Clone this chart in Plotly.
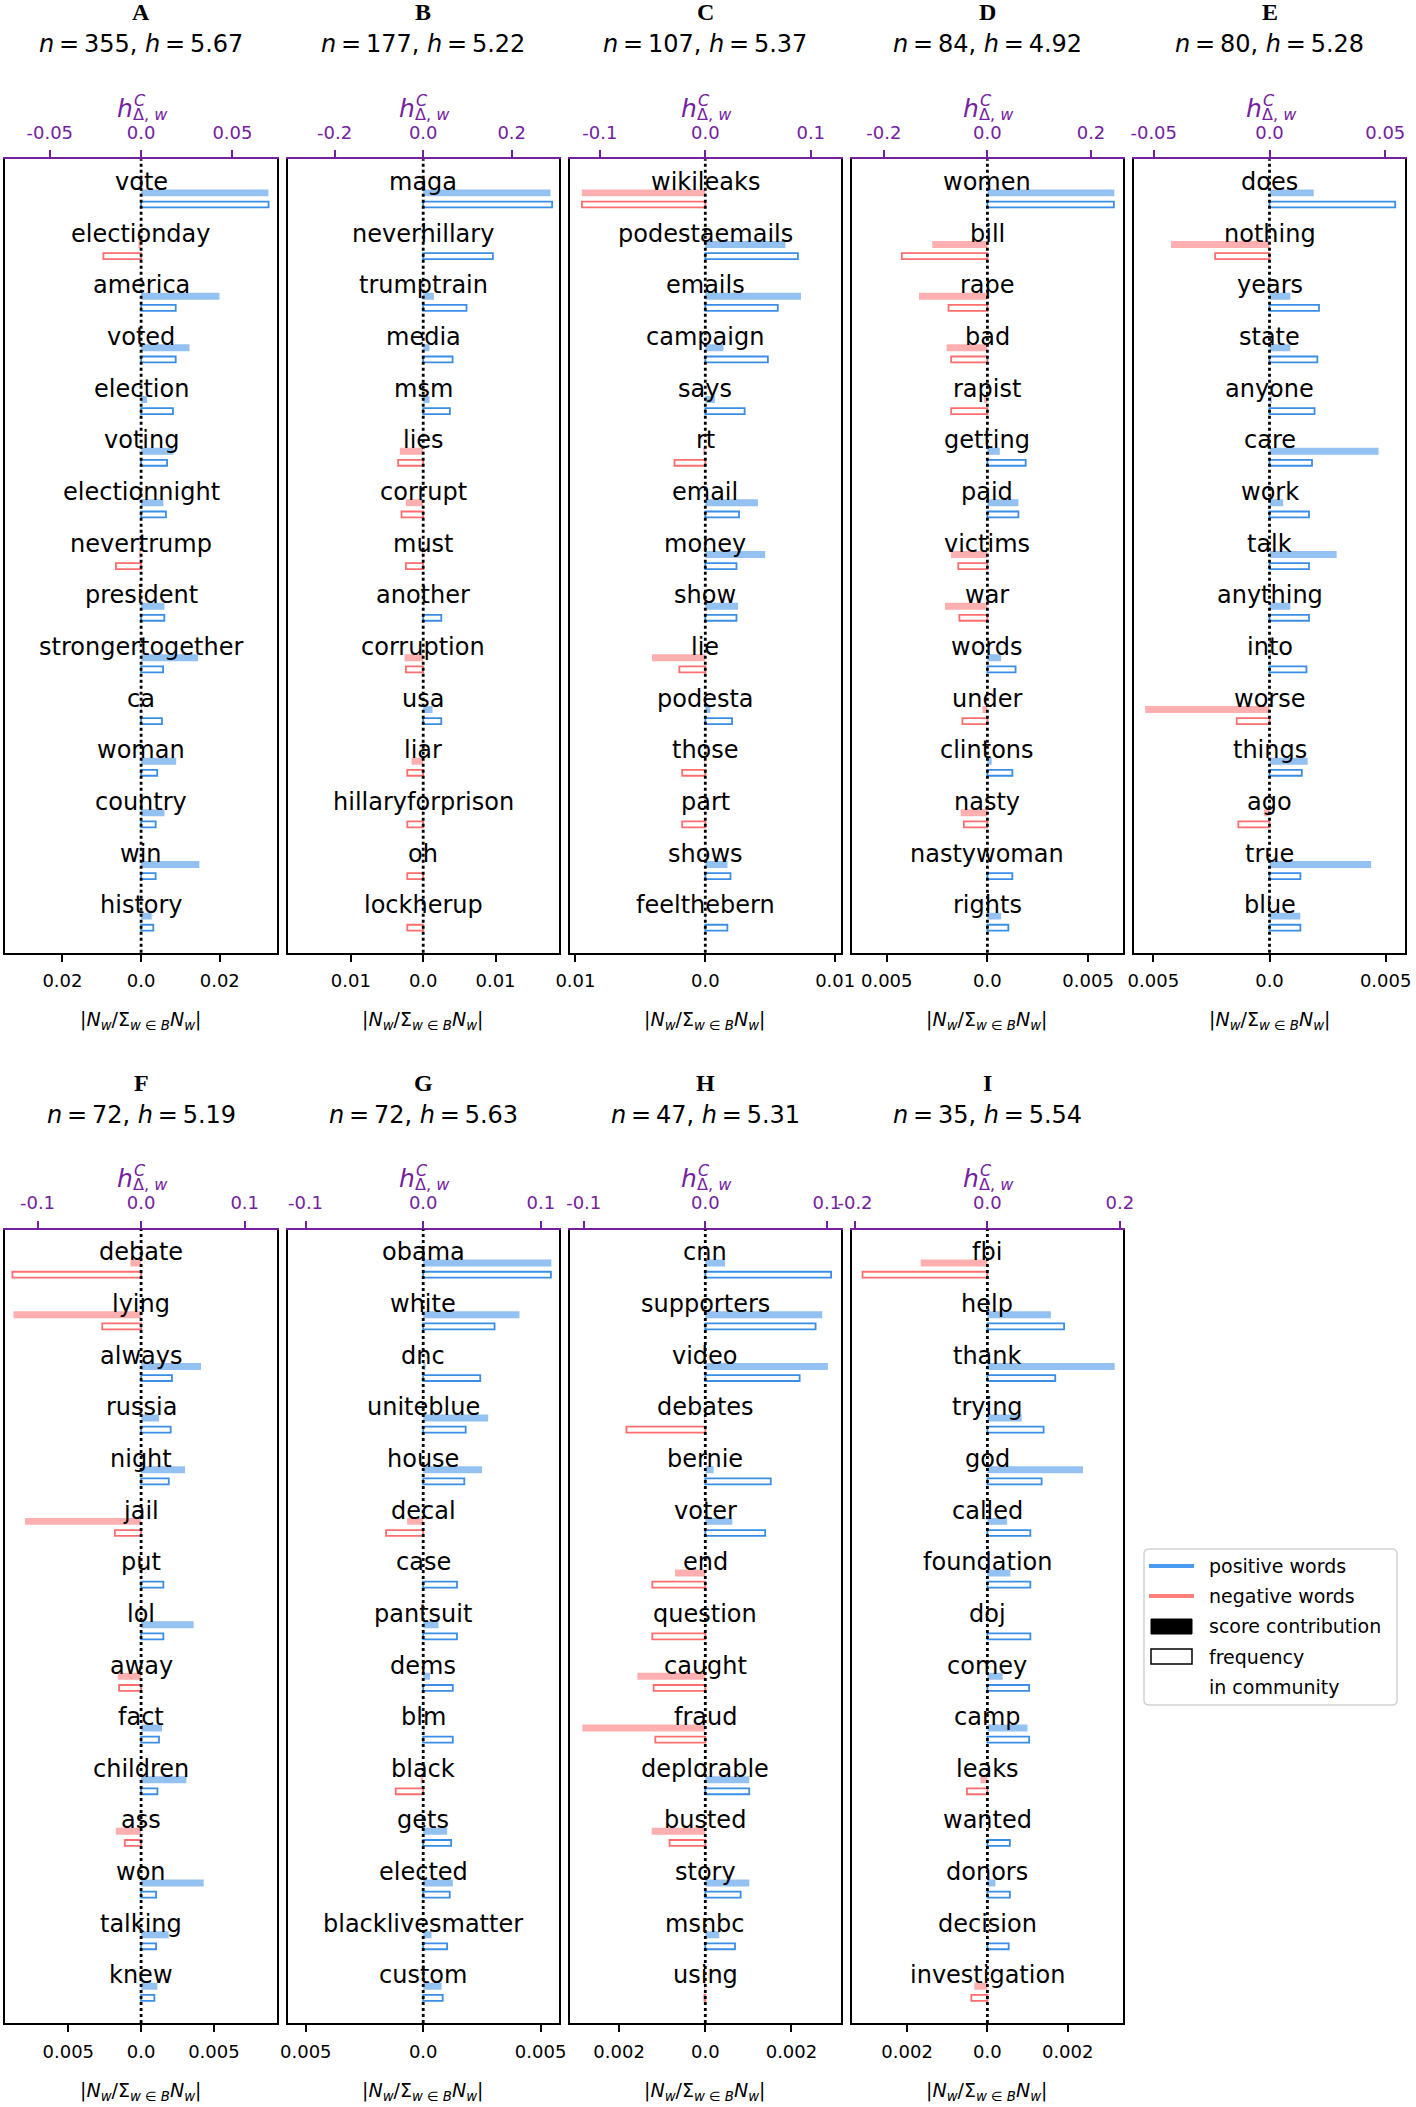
import plotly.graph_objects as go

W, H = 1416, 2107
PURPLE = "#74219f"
BLUE = "#3a8ee6"
BLUE_F = "rgba(58,142,230,0.55)"
RED = "#ff6e6e"
RED_F = "rgba(255,110,110,0.55)"
FONT = "DejaVu Sans"

# ---------------- data ----------------
letters = ["A", "B", "C", "D", "E", "F", "G", "H", "I"]
n_vals = [355, 177, 107, 84, 80, 72, 72, 47, 35]
h_vals = ["5.67", "5.22", "5.37", "4.92", "5.28", "5.19", "5.63", "5.31", "5.54"]

words_A = ["vote", "electionday", "america", "voted", "election", "voting", "electionnight", "nevertrump",
           "president", "strongertogether", "ca", "woman", "country", "win", "history"]
score_A = [0.0697, -0.0015, 0.0429, 0.0265, 0.0033, 0.0177, 0.0122, -0.001, 0.0128, 0.0312, 0.0004, 0.0192,
           0.0128, 0.0319, 0.0058]
freq_A = [0.0324, -0.0096, 0.0088, 0.0088, 0.0081, 0.0066, 0.0063, -0.0064, 0.0059, 0.0056, 0.0053, 0.0041,
          0.0037, 0.0037, 0.0031]

words_B = ["maga", "neverhillary", "trumptrain", "media", "msm", "lies", "corrupt", "must", "another",
           "corruption", "usa", "liar", "hillaryforprison", "oh", "lockherup"]
score_B = [0.2877, 0.001, 0.0241, 0.0143, 0.0143, -0.0527, -0.0392, -0.002, 0.001, -0.0422, 0.0211, -0.0264,
           -0.002, -0.001, -0.0005]
freq_B = [0.01783, 0.00963, 0.00599, 0.00406, 0.00369, -0.00346, -0.0030, -0.0024, 0.0025, -0.0024, 0.0025,
          -0.0022, -0.0022, -0.0022, -0.0022]

words_C = ["wikileaks", "podestaemails", "emails", "campaign", "says", "rt", "email", "money", "show", "lie",
           "podesta", "those", "part", "shows", "feelthebern"]
score_C = [-0.1171, 0.076, 0.0907, 0.0173, 0.0091, -0.002, 0.0499, 0.0568, 0.0311, -0.0505, 0.0047, -0.001,
           -0.0003, 0.021, 0.0005]
freq_C = [-0.0095, 0.00713, 0.00558, 0.00482, 0.00303, -0.00237, 0.0026, 0.0024, 0.0024, -0.0020, 0.00206,
          -0.00178, -0.00178, 0.00194, 0.0017]

words_D = ["women", "bill", "rape", "bad", "rapist", "getting", "paid", "victims", "war", "words", "under",
           "clintons", "nasty", "nastywoman", "rights"]
score_D = [0.245, -0.1065, -0.132, -0.0787, -0.006, 0.0239, 0.06, -0.0703, -0.082, 0.0265, -0.0097, 0.0084,
           -0.0516, 0.001, 0.0265]
freq_D = [0.00628, -0.00425, -0.00193, -0.0018, -0.0018, 0.0019, 0.00154, -0.00145, -0.00139, 0.0014, -0.00124,
          0.00124, -0.00117, 0.00124, 0.00104]

words_E = ["does", "nothing", "years", "state", "anyone", "care", "work", "talk", "anything", "into", "worse",
           "things", "ago", "true", "blue"]
score_E = [0.0191, -0.0425, 0.009, 0.009, 0.001, 0.0471, 0.0059, 0.029, 0.009, 0.0005, -0.0537, 0.0165, -0.0023,
           0.0439, 0.0133]
freq_E = [0.00541, -0.00234, 0.00213, 0.00206, 0.00194, 0.00183, 0.0017, 0.0017, 0.0017, 0.00159, -0.00141,
          0.00139, -0.00134, 0.00133, 0.00133]

words_F = ["debate", "lying", "always", "russia", "night", "jail", "put", "lol", "away", "fact", "children", "ass",
           "won", "talking", "knew"]
score_F = [-0.0103, -0.1233, 0.0578, 0.0173, 0.0424, -0.112, 0.0005, 0.0507, -0.0225, 0.0202, 0.0437, -0.0244,
           0.0604, 0.0266, 0.0157]
freq_F = [-0.00884, -0.00267, 0.00212, 0.00203, 0.0019, -0.0018, 0.00153, 0.00153, -0.00151, 0.00123, 0.00112,
          -0.00112, 0.00103, 0.00103, 0.00091]

words_G = ["obama", "white", "dnc", "uniteblue", "house", "decal", "case", "pantsuit", "dems", "blm", "black",
           "gets", "elected", "blacklivesmatter", "custom"]
score_G = [0.1089, 0.0818, 0.002, 0.0552, 0.05, -0.0136, 0.0003, 0.013, 0.0057, 0.001, -0.0023, 0.0204, 0.0252,
           0.0071, 0.0156]
freq_G = [0.00544, 0.00304, 0.00243, 0.00181, 0.00175, -0.00158, 0.00144, 0.00144, 0.00126, 0.00126, -0.00117,
          0.00119, 0.00113, 0.00102, 0.00083]

words_H = ["cnn", "supporters", "video", "debates", "bernie", "voter", "end", "question", "caught", "fraud",
           "deplorable", "busted", "story", "msnbc", "using"]
score_H = [0.0162, 0.0962, 0.1008, -0.001, 0.0068, 0.0222, -0.0249, -0.0003, -0.0559, -0.1011, 0.0362, -0.0441,
           0.0362, 0.0115, -0.001]
freq_H = [0.00292, 0.00256, 0.00219, -0.00183, 0.00152, 0.00139, -0.00123, -0.00123, -0.0012, -0.00116, 0.00102,
          -0.00083, 0.00082, 0.00069, -0.00002]

words_I = ["fbi", "help", "thank", "trying", "god", "called", "foundation", "doj", "comey", "camp", "leaks",
           "wanted", "donors", "decision", "investigation"]
score_I = [-0.1008, 0.0959, 0.1923, 0.0518, 0.1444, 0.0298, 0.0347, 0.001, 0.0231, 0.0606, -0.0105, 0.0003,
           0.0121, 0.0003, -0.0198]
freq_I = [-0.00311, 0.00191, 0.00169, 0.0014, 0.00135, 0.00107, 0.00107, 0.00107, 0.00104, 0.00104, -0.00051,
          0.00056, 0.00056, 0.00053, -0.0004]

# axis ticks / limits
top_tick = [0.05, 0.2, 0.1, 0.2, 0.05, 0.1, 0.1, 0.1, 0.2]
top_tick_text = [["-0.05", "0.0", "0.05"], ["-0.2", "0.0", "0.2"], ["-0.1", "0.0", "0.1"],
                 ["-0.2", "0.0", "0.2"], ["-0.05", "0.0", "0.05"], ["-0.1", "0.0", "0.1"],
                 ["-0.1", "0.0", "0.1"], ["-0.1", "0.0", "0.1"], ["-0.2", "0.0", "0.2"]]
bottom_tick = [0.02, 0.01, 0.01, 0.005, 0.005, 0.005, 0.005, 0.002, 0.002]
bottom_tick_text = [["0.02", "0.0", "0.02"], ["0.01", "0.0", "0.01"], ["0.01", "0.0", "0.01"],
                    ["0.005", "0.0", "0.005"], ["0.005", "0.0", "0.005"], ["0.005", "0.0", "0.005"],
                    ["0.005", "0.0", "0.005"], ["0.002", "0.0", "0.002"], ["0.002", "0.0", "0.002"]]
score_lim = [0.0743, 0.3066, 0.1287, 0.262, 0.0586, 0.131, 0.1153, 0.1116, 0.205]
freq_lim = [0.0345, 0.01876, 0.01045, 0.00674, 0.00584, 0.00932, 0.00578, 0.00315, 0.00338]

panels = [
    (words_A, score_A, freq_A), (words_B, score_B, freq_B), (words_C, score_C, freq_C),
    (words_D, score_D, freq_D), (words_E, score_E, freq_E), (words_F, score_F, freq_F),
    (words_G, score_G, freq_G), (words_H, score_H, freq_H), (words_I, score_I, freq_I),
]

# ---------------- figure ----------------
fig = go.Figure()
layout = dict(template="none", width=W, height=H, margin=dict(l=0, r=0, t=0, b=0, pad=0, autoexpand=False),
              plot_bgcolor="white", paper_bgcolor="white", showlegend=False, barmode="overlay",
              font=dict(family=FONT, color="black"))
annotations = []
shapes = []


def py(v):
    return 1 - v / H


def px(v):
    return v / W


THIN = "\u2009"
PANEL_W = 271.4
PANEL_H = 793.5
for k, (words, score, freq) in enumerate(panels):
    row = 0 if k < 5 else 1
    col = k if k < 5 else k - 5
    left = 5.4 + 282.1 * col
    top = 159.3 if row == 0 else 1229.5
    bot = top + PANEL_H
    xb = "x" if k == 0 else f"x{2 * k + 1}"
    xt = f"x{2 * k + 2}"
    ya = "y" if k == 0 else f"y{k + 1}"
    xbkey = "xaxis" if k == 0 else f"xaxis{2 * k + 1}"
    xtkey = f"xaxis{2 * k + 2}"
    yakey = "yaxis" if k == 0 else f"yaxis{k + 1}"

    pos = list(range(len(words)))
    pos_f = [p + 0.225 for p in pos]
    fill_cols = [BLUE_F if f >= 0 else RED_F for f in freq]
    line_cols = [BLUE if f >= 0 else RED for f in freq]

    fig.add_trace(go.Bar(x=score, y=pos, orientation="h", width=0.135,
                         marker=dict(color=fill_cols, line=dict(width=0)),
                         xaxis=xt, yaxis=ya, hoverinfo="skip"))
    fig.add_trace(go.Bar(x=freq, y=pos_f, orientation="h", width=0.115,
                         marker=dict(color="rgba(255,255,255,0)", line=dict(color=line_cols, width=1.8)),
                         xaxis=xb, yaxis=ya, hoverinfo="skip"))

    bt = bottom_tick[k]
    tt = top_tick[k]
    layout[xbkey] = dict(domain=[px(left), px(left + PANEL_W)], range=[-freq_lim[k], freq_lim[k]],
                         anchor=ya, side="bottom", tickvals=[-bt, 0, bt], ticktext=bottom_tick_text[k],
                         ticks="outside", ticklen=7, tickwidth=1.5, tickcolor="black", automargin=False,
                         showline=True, linecolor="black", linewidth=2, showgrid=False, zeroline=False,
                         ticklabelstandoff=4,
                         tickfont=dict(size=18, color="black", family=FONT))
    layout[xtkey] = dict(overlaying=xb, side="top", anchor=ya, range=[-score_lim[k], score_lim[k]],
                         tickvals=[-tt, 0, tt], ticktext=top_tick_text[k], automargin=False,
                         ticks="outside", ticklen=7, tickwidth=1.5, tickcolor=PURPLE,
                         showline=True, linecolor=PURPLE, linewidth=2, showgrid=False, zeroline=False,
                         ticklabelstandoff=4,
                         tickfont=dict(size=18, color=PURPLE, family=FONT))
    layout[yakey] = dict(domain=[py(bot), py(top)], range=[len(words) - 0.29, -0.65], anchor=xb,
                         showline=True, mirror=True, linecolor="black", linewidth=2, automargin=False,
                         showticklabels=False, ticks="", showgrid=False, zeroline=False)

    # zero line
    shapes.append(dict(type="line", xref=xt, yref=f"{ya} domain", x0=0, x1=0, y0=0, y1=1,
                       line=dict(color="black", width=2.8, dash="dot"), layer="above"))

    # word labels
    for i, w in enumerate(words):
        annotations.append(dict(xref=xt, yref=ya, x=0, y=i - 0.21, text=w, showarrow=False,
                                xanchor="center", yanchor="middle",
                                font=dict(size=24, color="black", family=FONT)))

    cx = px(left + PANEL_W / 2)
    # panel letter
    annotations.append(dict(xref="paper", yref="paper", x=cx, y=py(top - 146.8), text=f"<b>{letters[k]}</b>",
                            showarrow=False, xanchor="center", yanchor="middle",
                            font=dict(size=24, color="black", family="Liberation Serif")))
    annotations.append(dict(xref="paper", yref="paper", x=cx, y=py(top - 115),
                            text=f"<i>n</i>{THIN}={THIN}{n_vals[k]}, <i>h</i>{THIN}={THIN}{h_vals[k]}",
                            showarrow=False, xanchor="center", yanchor="middle",
                            font=dict(size=24, color="black", family=FONT)))
    # top axis label h^C_{Δ,w}
    annotations.append(dict(xref=xt, yref="paper", x=0, y=py(top - 51), text="<i>h</i>", showarrow=False,
                            xanchor="right", yanchor="middle", xshift=-7, borderpad=0,
                            font=dict(size=25, color=PURPLE, family=FONT)))
    annotations.append(dict(xref=xt, yref="paper", x=0, y=py(top - 59), text="<i>C</i>", showarrow=False,
                            xanchor="left", yanchor="middle", xshift=-8, borderpad=0,
                            font=dict(size=16, color=PURPLE, family=FONT)))
    annotations.append(dict(xref=xt, yref="paper", x=0, y=py(top - 45), text="Δ, <i>w</i>", showarrow=False,
                            xanchor="left", yanchor="middle", xshift=-9, borderpad=0,
                            font=dict(size=16, color=PURPLE, family=FONT)))
    # bottom axis label
    annotations.append(dict(xref=xb, yref="paper", x=0, y=py(bot + 68),
                            text="|<i>N</i><sub><i>w</i></sub>/Σ<sub><i>w</i> ∈ <i>B</i></sub><i>N</i><sub><i>w</i></sub>|",
                            showarrow=False, xanchor="center", yanchor="middle",
                            font=dict(size=19, color="black", family=FONT)))

# ---------------- legend (drawn manually) ----------------
def rounded_rect(x0, y0, x1, y1, r):
    pts = []
    pts.append(f"M {px(x0 + r)} {py(y0)}")
    pts.append(f"L {px(x1 - r)} {py(y0)}")
    pts.append(f"Q {px(x1)} {py(y0)} {px(x1)} {py(y0 + r)}")
    pts.append(f"L {px(x1)} {py(y1 - r)}")
    pts.append(f"Q {px(x1)} {py(y1)} {px(x1 - r)} {py(y1)}")
    pts.append(f"L {px(x0 + r)} {py(y1)}")
    pts.append(f"Q {px(x0)} {py(y1)} {px(x0)} {py(y1 - r)}")
    pts.append(f"L {px(x0)} {py(y0 + r)}")
    pts.append(f"Q {px(x0)} {py(y0)} {px(x0 + r)} {py(y0)}")
    pts.append("Z")
    return " ".join(pts)


legend_labels = ["positive words", "negative words", "score contribution", "frequency", "in community"]
legend_rows = [1566, 1596, 1626, 1657, 1687]
shapes.append(dict(type="path", xref="paper", yref="paper", path=rounded_rect(1144, 1549, 1397, 1705, 5),
                   line=dict(color="#d3d3d3", width=1.5), fillcolor="white", layer="above"))
shapes.append(dict(type="line", xref="paper", yref="paper", x0=px(1149), x1=px(1194), y0=py(1566), y1=py(1566),
                   line=dict(color="#4a9af0", width=4), layer="above"))
shapes.append(dict(type="line", xref="paper", yref="paper", x0=px(1149), x1=px(1194), y0=py(1596), y1=py(1596),
                   line=dict(color="#ff7f7f", width=4), layer="above"))
shapes.append(dict(type="rect", xref="paper", yref="paper", x0=px(1151), x1=px(1192), y0=py(1634), y1=py(1619),
                   line=dict(color="black", width=1), fillcolor="black", layer="above"))
shapes.append(dict(type="rect", xref="paper", yref="paper", x0=px(1151), x1=px(1192), y0=py(1664), y1=py(1649),
                   line=dict(color="black", width=1.5), fillcolor="white", layer="above"))
for lab, yy in zip(legend_labels, legend_rows):
    annotations.append(dict(xref="paper", yref="paper", x=px(1207), y=py(yy), text=lab, showarrow=False,
                            xanchor="left", yanchor="middle", font=dict(size=19, color="black", family=FONT)))

layout["annotations"] = annotations
layout["shapes"] = shapes
fig.update_layout(**layout)
fig.write_html("out.html", config={"displayModeBar": False},
               post_script="document.body.style.margin='0';document.body.style.overflow='hidden';")
